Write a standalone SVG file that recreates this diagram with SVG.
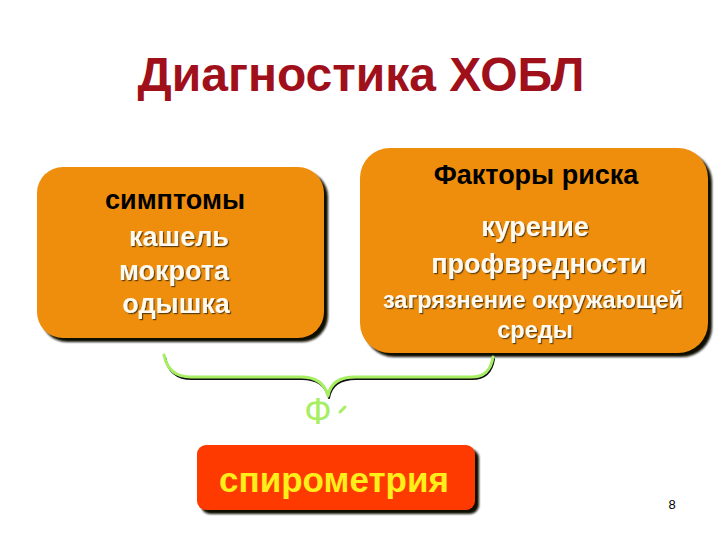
<svg xmlns="http://www.w3.org/2000/svg" width="720" height="540" viewBox="0 0 720 540">
<defs>
<filter id="ts" x="-10%" y="-20%" width="130%" height="160%"><feDropShadow dx="1.2" dy="1.2" stdDeviation="0.4" flood-color="#3a2a10" flood-opacity="0.8"/></filter>
<filter id="bs" x="-10%" y="-10%" width="130%" height="130%"><feGaussianBlur stdDeviation="0.9"/></filter>
</defs>
<style>
.box{fill:#ef8e0c}
.shadow{fill:#110b04}
.head{font-family:"Liberation Sans",Arial,sans-serif;font-size:27px;font-weight:bold;fill:#000;text-anchor:middle}
.item{font-family:"Liberation Sans",Arial,sans-serif;font-size:27px;font-weight:bold;fill:#fffaf0;text-anchor:middle}
.small{font-family:"Liberation Sans",Arial,sans-serif;font-size:23.5px;font-weight:bold;fill:#fffaf0;text-anchor:middle}
.brace{fill:none;stroke-linecap:round;stroke-linejoin:round}
</style>
<rect width="720" height="540" fill="#ffffff"/>
<g id="title">
<text x="361" y="91" font-family="'Liberation Sans',Arial,sans-serif" font-size="48" font-weight="bold" fill="#a0101a" text-anchor="middle">Диагностика ХОБЛ</text>
</g>
<g id="symptoms">
<rect class="shadow" x="41" y="171" width="287" height="171" rx="26" filter="url(#bs)"/>
<rect class="box" x="37" y="167" width="287" height="171" rx="26"/>
<text class="head" x="175" y="209">симптомы</text>
<g filter="url(#ts)">
<text class="item" x="179" y="246">кашель</text>
<text class="item" x="174" y="280">мокрота</text>
<text class="item" x="176" y="313">одышка</text>
</g>
</g>
<g id="risk">
<rect class="shadow" x="364" y="152" width="348" height="205" rx="30" filter="url(#bs)"/>
<rect class="box" x="360" y="148" width="348" height="205" rx="30"/>
<text class="head" x="536" y="184">Факторы риска</text>
<g filter="url(#ts)">
<text class="item" x="535" y="236">курение</text>
<text class="item" x="539" y="273">профвредности</text>
<text class="small" x="533" y="308">загрязнение окружающей</text>
<text class="small" x="535" y="338">среды</text>
</g>
</g>
<g id="connectors">
<path class="brace" stroke="#111" stroke-width="2" d="M165,357 C168,372 178,379 192,379 L302,379 C318,379 326,386 329,398 C331,386 340,379 356,379 L472,379 C486,379 492,372 494,359"/>
<path class="brace" stroke="#a6ee62" stroke-width="3" d="M164,355 C167,370 177,377 191,377 L301,377 C317,377 325,384 328,396 C330,384 339,377 355,377 L471,377 C485,377 491,370 493,357"/>
<text x="318" y="424" font-family="'Liberation Sans',Arial,sans-serif" font-size="36" fill="#a6ee62" text-anchor="middle">Ф</text>
<path d="M340,412 L345,407" stroke="#a6ee62" stroke-width="3" stroke-linecap="round"/>
</g>
<g id="spirometry">
<rect class="shadow" x="201" y="449" width="278" height="65" rx="9" filter="url(#bs)"/>
<rect x="197" y="445" width="278" height="65" rx="9" fill="#ff3a00"/>
<text x="334" y="492" font-family="'Liberation Sans',Arial,sans-serif" font-size="35" font-weight="bold" fill="#ffee1a" text-anchor="middle">спирометрия</text>
</g>
<g id="page">
<text x="672" y="509" font-family="'Liberation Sans',Arial,sans-serif" font-size="13" fill="#000" text-anchor="middle">8</text>
</g>
</svg>
